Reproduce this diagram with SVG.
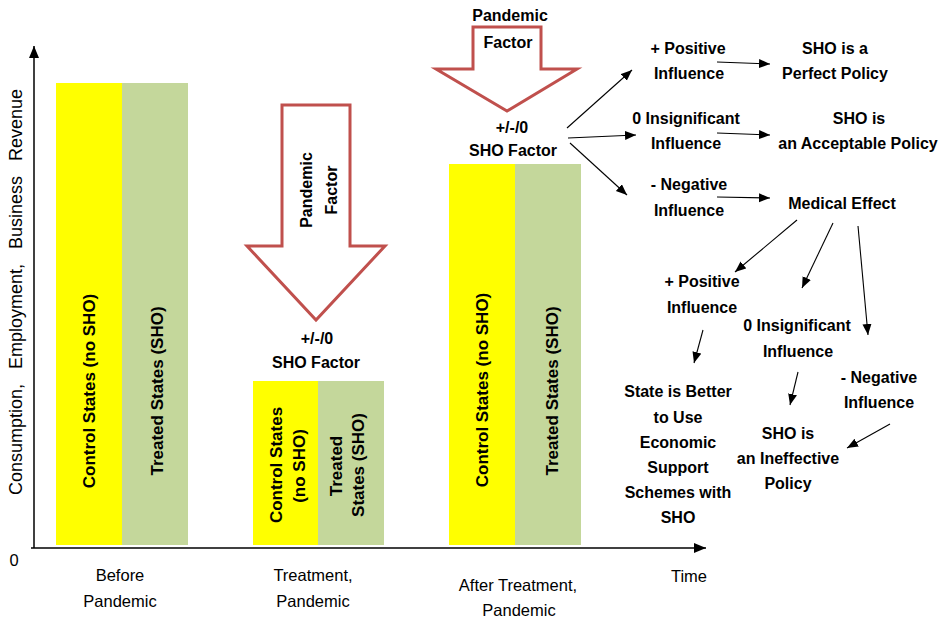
<svg xmlns="http://www.w3.org/2000/svg" width="944" height="622" viewBox="0 0 944 622">
<style>
.b{font-family:"Liberation Sans",Arial,sans-serif;font-weight:bold;font-size:16px;fill:#000;text-anchor:middle}
.bl{font-family:"Liberation Sans",Arial,sans-serif;font-weight:bold;font-size:17px;fill:#000;text-anchor:middle}
.r{font-family:"Liberation Sans",Arial,sans-serif;font-size:16.5px;fill:#000;text-anchor:middle}
.ctl{fill:#FFFF00}
.trt{fill:#C4D79B}
.big{fill:#fff;stroke:#C0504D;stroke-width:3;stroke-linejoin:miter}
.ax{stroke:#000;stroke-width:1.5;fill:none}
.c{stroke:#000;stroke-width:1.1;fill:none;marker-end:url(#ah)}
</style>
<defs>
<marker id="ah" markerUnits="userSpaceOnUse" markerWidth="12" markerHeight="10" refX="11" refY="4.5" orient="auto">
<path d="M0,0 L11,4.5 L0,9 Z" fill="#000"/>
</marker>
<marker id="axh" markerUnits="userSpaceOnUse" markerWidth="13" markerHeight="11" refX="12" refY="5" orient="auto">
<path d="M0,0 L12,5 L0,10 Z" fill="#000"/>
</marker>
</defs>
<rect width="944" height="622" fill="#fff"/>

<g id="axes">
<line class="ax" x1="34" y1="548" x2="34" y2="46" marker-end="url(#axh)"/>
<line class="ax" x1="31" y1="548" x2="706" y2="548" marker-end="url(#axh)"/>
<text class="r" x="14" y="566">0</text>
<text class="r" transform="translate(22,292) rotate(-90)" style="font-size:18px;word-spacing:10px">Consumption, Employment, Business Revenue</text>
<text class="r" x="120" y="581">Before</text>
<text class="r" x="120" y="607">Pandemic</text>
<text class="r" x="313" y="581">Treatment,</text>
<text class="r" x="313" y="607">Pandemic</text>
<text class="r" x="518" y="591">After Treatment,</text>
<text class="r" x="519" y="616">Pandemic</text>
<text class="r" x="689" y="582">Time</text>
</g>

<g id="bar-before">
<rect class="ctl" x="56" y="83" width="66" height="462"/>
<rect class="trt" x="122" y="83" width="66" height="462"/>
<text class="bl" transform="translate(95,391) rotate(-90)">Control States (no SHO)</text>
<text class="bl" transform="translate(163,391) rotate(-90)">Treated States (SHO)</text>
</g>

<g id="bar-treatment">
<rect class="ctl" x="253" y="381" width="65" height="164"/>
<rect class="trt" x="318" y="381" width="66" height="164"/>
<text class="bl" transform="translate(282,465) rotate(-90)">Control States</text>
<text class="bl" transform="translate(305,466) rotate(-90)">(no SHO)</text>
<text class="bl" transform="translate(342,466) rotate(-90)">Treated</text>
<text class="bl" transform="translate(364,465) rotate(-90)">States (SHO)</text>
</g>

<g id="bar-after">
<rect class="ctl" x="449" y="164" width="66" height="381"/>
<rect class="trt" x="515" y="164" width="66" height="381"/>
<text class="bl" transform="translate(488,390) rotate(-90)">Control States (no SHO)</text>
<text class="bl" transform="translate(558,391) rotate(-90)">Treated States (SHO)</text>
</g>

<g id="pandemic-arrow-1">
<path class="big" d="M282,105 L350,105 L350,246 L385,246 L316,320 L247,246 L282,246 Z"/>
<text class="b" transform="translate(312,190) rotate(-90)">Pandemic</text>
<text class="b" transform="translate(337,190) rotate(-90)">Factor</text>
</g>
<g id="sho-factor-1">
<text class="b" x="317" y="344">+/-/0</text>
<text class="b" x="316" y="368">SHO Factor</text>
</g>

<g id="pandemic-arrow-2">
<path class="big" d="M473,27 L541,27 L541,69 L577,69 L507,111 L436,69 L473,69 Z"/>
<text class="b" x="510" y="21">Pandemic</text>
<text class="b" x="508" y="48">Factor</text>
</g>
<g id="sho-factor-2">
<text class="b" x="512" y="133">+/-/0</text>
<text class="b" x="513" y="156">SHO Factor</text>
</g>

<g id="pos-1"><text class="b" x="688" y="54">+ Positive</text><text class="b" x="689" y="79">Influence</text></g>
<g id="perfect"><text class="b" x="835" y="54">SHO is a</text><text class="b" x="835" y="79">Perfect Policy</text></g>
<g id="ins-1"><text class="b" x="686" y="124">0 Insignificant</text><text class="b" x="686" y="149">Influence</text></g>
<g id="acceptable"><text class="b" x="859" y="124">SHO is</text><text class="b" x="858" y="149">an Acceptable Policy</text></g>
<g id="neg-1"><text class="b" x="689" y="190">- Negative</text><text class="b" x="689" y="216">Influence</text></g>
<g id="medical"><text class="b" x="842" y="209">Medical Effect</text></g>
<g id="pos-2"><text class="b" x="702" y="287">+ Positive</text><text class="b" x="702" y="313">Influence</text></g>
<g id="ins-2"><text class="b" x="797" y="331">0 Insignificant</text><text class="b" x="798" y="357">Influence</text></g>
<g id="neg-2"><text class="b" x="879" y="383">- Negative</text><text class="b" x="879" y="408">Influence</text></g>
<g id="state-better">
<text class="b" x="678" y="397">State is Better</text>
<text class="b" x="678" y="423">to Use</text>
<text class="b" x="678" y="448">Economic</text>
<text class="b" x="678" y="473">Support</text>
<text class="b" x="678" y="498">Schemes with</text>
<text class="b" x="678" y="523">SHO</text>
</g>
<g id="ineffective">
<text class="b" x="788" y="439">SHO is</text>
<text class="b" x="788" y="464">an Ineffective</text>
<text class="b" x="788" y="489">Policy</text>
</g>

<g id="connectors">
<line class="c" x1="567" y1="128" x2="632" y2="70"/>
<line class="c" x1="568" y1="138" x2="636" y2="135"/>
<line class="c" x1="570" y1="143" x2="627" y2="195"/>
<line class="c" x1="717" y1="62" x2="770" y2="64"/>
<line class="c" x1="717" y1="133" x2="770" y2="135"/>
<line class="c" x1="717" y1="197" x2="770" y2="198"/>
<line class="c" x1="797" y1="220" x2="735" y2="272"/>
<line class="c" x1="833" y1="223" x2="802" y2="288"/>
<line class="c" x1="858" y1="226" x2="868" y2="335"/>
<line class="c" x1="703" y1="330" x2="694" y2="363"/>
<line class="c" x1="798" y1="372" x2="790" y2="405"/>
<line class="c" x1="890" y1="424" x2="847" y2="448"/>
</g>
</svg>
